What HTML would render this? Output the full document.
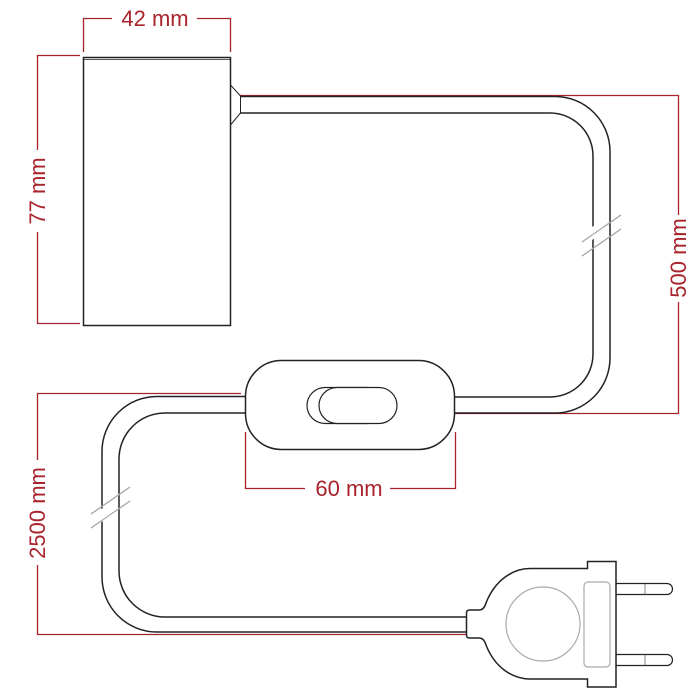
<!DOCTYPE html>
<html><head><meta charset="utf-8"><style>html,body{margin:0;padding:0;background:#fff}svg{display:block}</style></head>
<body>
<svg width="700" height="700" viewBox="0 0 700 700" xmlns="http://www.w3.org/2000/svg">
<g fill="none" stroke="#a8232b" stroke-width="1.3">
  <!-- 42 mm -->
  <path d="M83.5 52 V18.5 H112 M197 18.5 H230.5 V52"/>
  <!-- 77 mm -->
  <path d="M80 55.5 H37.5 V150 M37.5 232 V323.5 H80"/>
  <!-- 500 mm -->
  <path d="M240 95.5 H678.5 V215 M678.5 302 V413.5 H455"/>
  <!-- 2500 mm -->
  <path d="M241 393.5 H37.5 V460 M37.5 565 V634.5 H467"/>
  <!-- 60 mm -->
  <path d="M245.5 432 V488.5 H305 M390 488.5 H455.5 V432"/>
</g>
<g fill="#a8232b" font-family="Liberation Sans, sans-serif" font-size="22" text-anchor="middle">
  <text x="155" y="26">42 mm</text>
  <text x="349" y="496">60 mm</text>
  <text transform="translate(45,191) rotate(-90)">77 mm</text>
  <text transform="translate(686,258) rotate(-90)">500 mm</text>
  <text transform="translate(45,513) rotate(-90)">2500 mm</text>
</g>
<g fill="none" stroke="#222" stroke-width="1.5">
  <!-- box -->
  <rect x="83.5" y="57.5" width="147" height="268" fill="#fff"/>
  <path d="M84 59.5 H230" stroke-width="0.8"/>
  <!-- connector -->
  <path d="M230.5 85 L240.5 96 V113 L230.5 125" stroke-width="1"/>
  <!-- upper cable -->
  <path d="M240.5 96.5 H555 A55 55 0 0 1 610 151.5 V358 A55 55 0 0 1 555 413 H455"/>
  <path d="M240.5 113 H550 A43 43 0 0 1 593 156 V354 A43 43 0 0 1 550 397 H455"/>
  <!-- lower cable -->
  <path d="M245 396.5 H157 A55 55 0 0 0 102 451.5 V577 A55 55 0 0 0 157 632 H467"/>
  <path d="M245 413 H165 A46 46 0 0 0 119 459 V571 A46 46 0 0 0 165 617 H467"/>
  <!-- switch -->
  <rect x="245.5" y="360.5" width="209" height="89" rx="36" fill="#fff"/>
  <rect x="307" y="387.5" width="78" height="36" rx="18" fill="#fff" stroke-width="1.2"/>
  <rect x="319" y="387.5" width="78" height="36" rx="18" fill="#fff" stroke-width="1.2"/>
  <!-- plug -->
  <path d="M616 583.5 H667 A5.5 5.5 0 0 1 667 594.5 H616 M616 654.5 H667 A5.5 5.5 0 0 1 667 665.5 H616" fill="#fff" stroke-width="1.2"/>
  <path d="M645 583.5 V594.5 M645 654.5 V665.5" stroke-width="0.8" stroke="#666"/>
  <path d="M466.5 613 q0 -3 3 -3 L479 610 q5 0 7 -7 C495 580 513 568.5 530 568.5 L587.5 568.5 L587.5 561.5 L616 561.5 L616 687 L587.5 687 L587.5 679 L530 679 C513 679 495 668 486 645 q-2 -7 -7 -7 L469.5 638 q-3 0 -3 -3 Z" fill="#fff"/>
</g>
<g fill="none" stroke="#aaa" stroke-width="1.2">
  <circle cx="543" cy="624" r="37"/>
  <rect x="584" y="582" width="26" height="85" rx="4"/>
  <!-- break marks -->
  <path d="M582 242 L621 215 M582 256 L621 229"/>
  <path d="M91 514 L130 487 M91 528 L130 501"/>
</g>
<g fill="#fff" stroke="none">
  <path d="M589 229 L604 219 L604 232 L589 242 Z"/>
  <path d="M100 510 L115 500 L115 513 L100 523 Z"/>
</g>
<g stroke="#aaa" stroke-width="1.2">
  <path d="M582 242 L621 215 M582 256 L621 229"/>
  <path d="M91 514 L130 487 M91 528 L130 501"/>
</g>
</svg>
</body></html>
